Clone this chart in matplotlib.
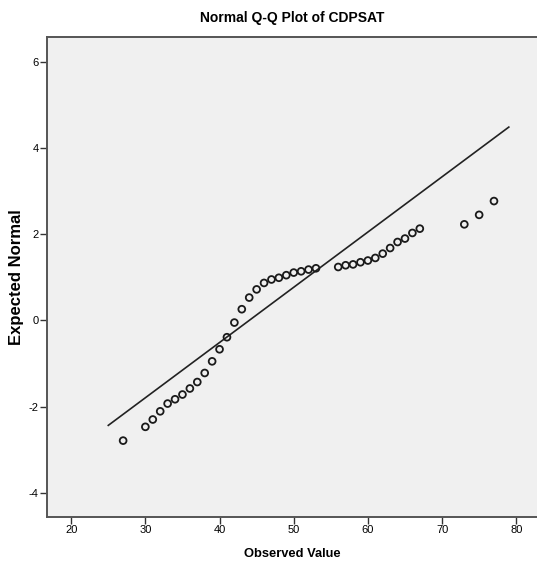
"""Normal Q-Q plot of CDPSAT, SPSS style."""

import matplotlib
matplotlib.use("Agg")
import matplotlib.pyplot as plt
import numpy as np

observed = [27, 30, 31, 32, 33, 34, 35, 36, 37, 38, 39, 40, 41, 42, 43, 44,
            45, 46, 47, 48, 49, 50, 51, 52, 53, 56, 57, 58, 59, 60, 61, 62,
            63, 64, 65, 66, 67, 73, 75, 77]
expected = [-2.79, -2.47, -2.30, -2.11, -1.93, -1.83, -1.72, -1.58, -1.43,
            -1.22, -0.95, -0.67, -0.39, -0.05, 0.26, 0.53, 0.72, 0.87, 0.95,
            0.99, 1.05, 1.11, 1.14, 1.18, 1.21, 1.24, 1.28, 1.30, 1.35, 1.39,
            1.45, 1.55, 1.68, 1.82, 1.90, 2.03, 2.13, 2.23, 2.45, 2.77]

# reference line (mean, sd) and its span
line_x = [25, 79]
mean, sd = 44.0, 7.8

xticks = [20, 30, 40, 50, 60, 70, 80]
yticks = [-4, -2, 0, 2, 4, 6]

fam = ["Liberation Sans", "DejaVu Sans"]

fig = plt.figure(figsize=(5.37, 5.68), dpi=100)
ax = fig.add_axes([0.087, 0.09, 0.913, 0.845])
ax.set_facecolor("#f0f0f0")

lx = np.array(line_x, dtype=float)
ax.plot(lx, (lx - mean) / sd, color="#222222", lw=1.2)
ax.scatter(observed, expected, s=24, facecolors="none", edgecolors="#1a1a1a",
           linewidths=1.3, zorder=3)

ax.set_xlim(16.7, 82.8)
ax.set_ylim(-4.56, 6.58)
ax.set_xticks(xticks)
ax.set_yticks(yticks)
ax.set_xticklabels([str(t) for t in xticks], family=fam, fontsize=8)
ax.set_yticklabels([str(t) for t in yticks], family=fam, fontsize=8)
ax.tick_params(direction="out", length=5, width=1, color="#333333", pad=1)

for s in ["left", "bottom", "top"]:
    ax.spines[s].set_color("#555555")
    ax.spines[s].set_linewidth(1.4)
ax.spines["right"].set_visible(False)

ax.set_title("Normal Q-Q Plot of CDPSAT", family=fam, fontsize=10,
             fontweight="bold", pad=11)
ax.set_xlabel("Observed Value", family=fam, fontsize=9.3, fontweight="bold")
ax.set_ylabel("Expected Normal", family=fam, fontsize=12, fontweight="bold")
ax.xaxis.set_label_coords(0.5, -0.065)
ax.yaxis.set_label_coords(-0.047, 0.5)

fig.savefig("out.png", dpi=100)
plt.close(fig)
